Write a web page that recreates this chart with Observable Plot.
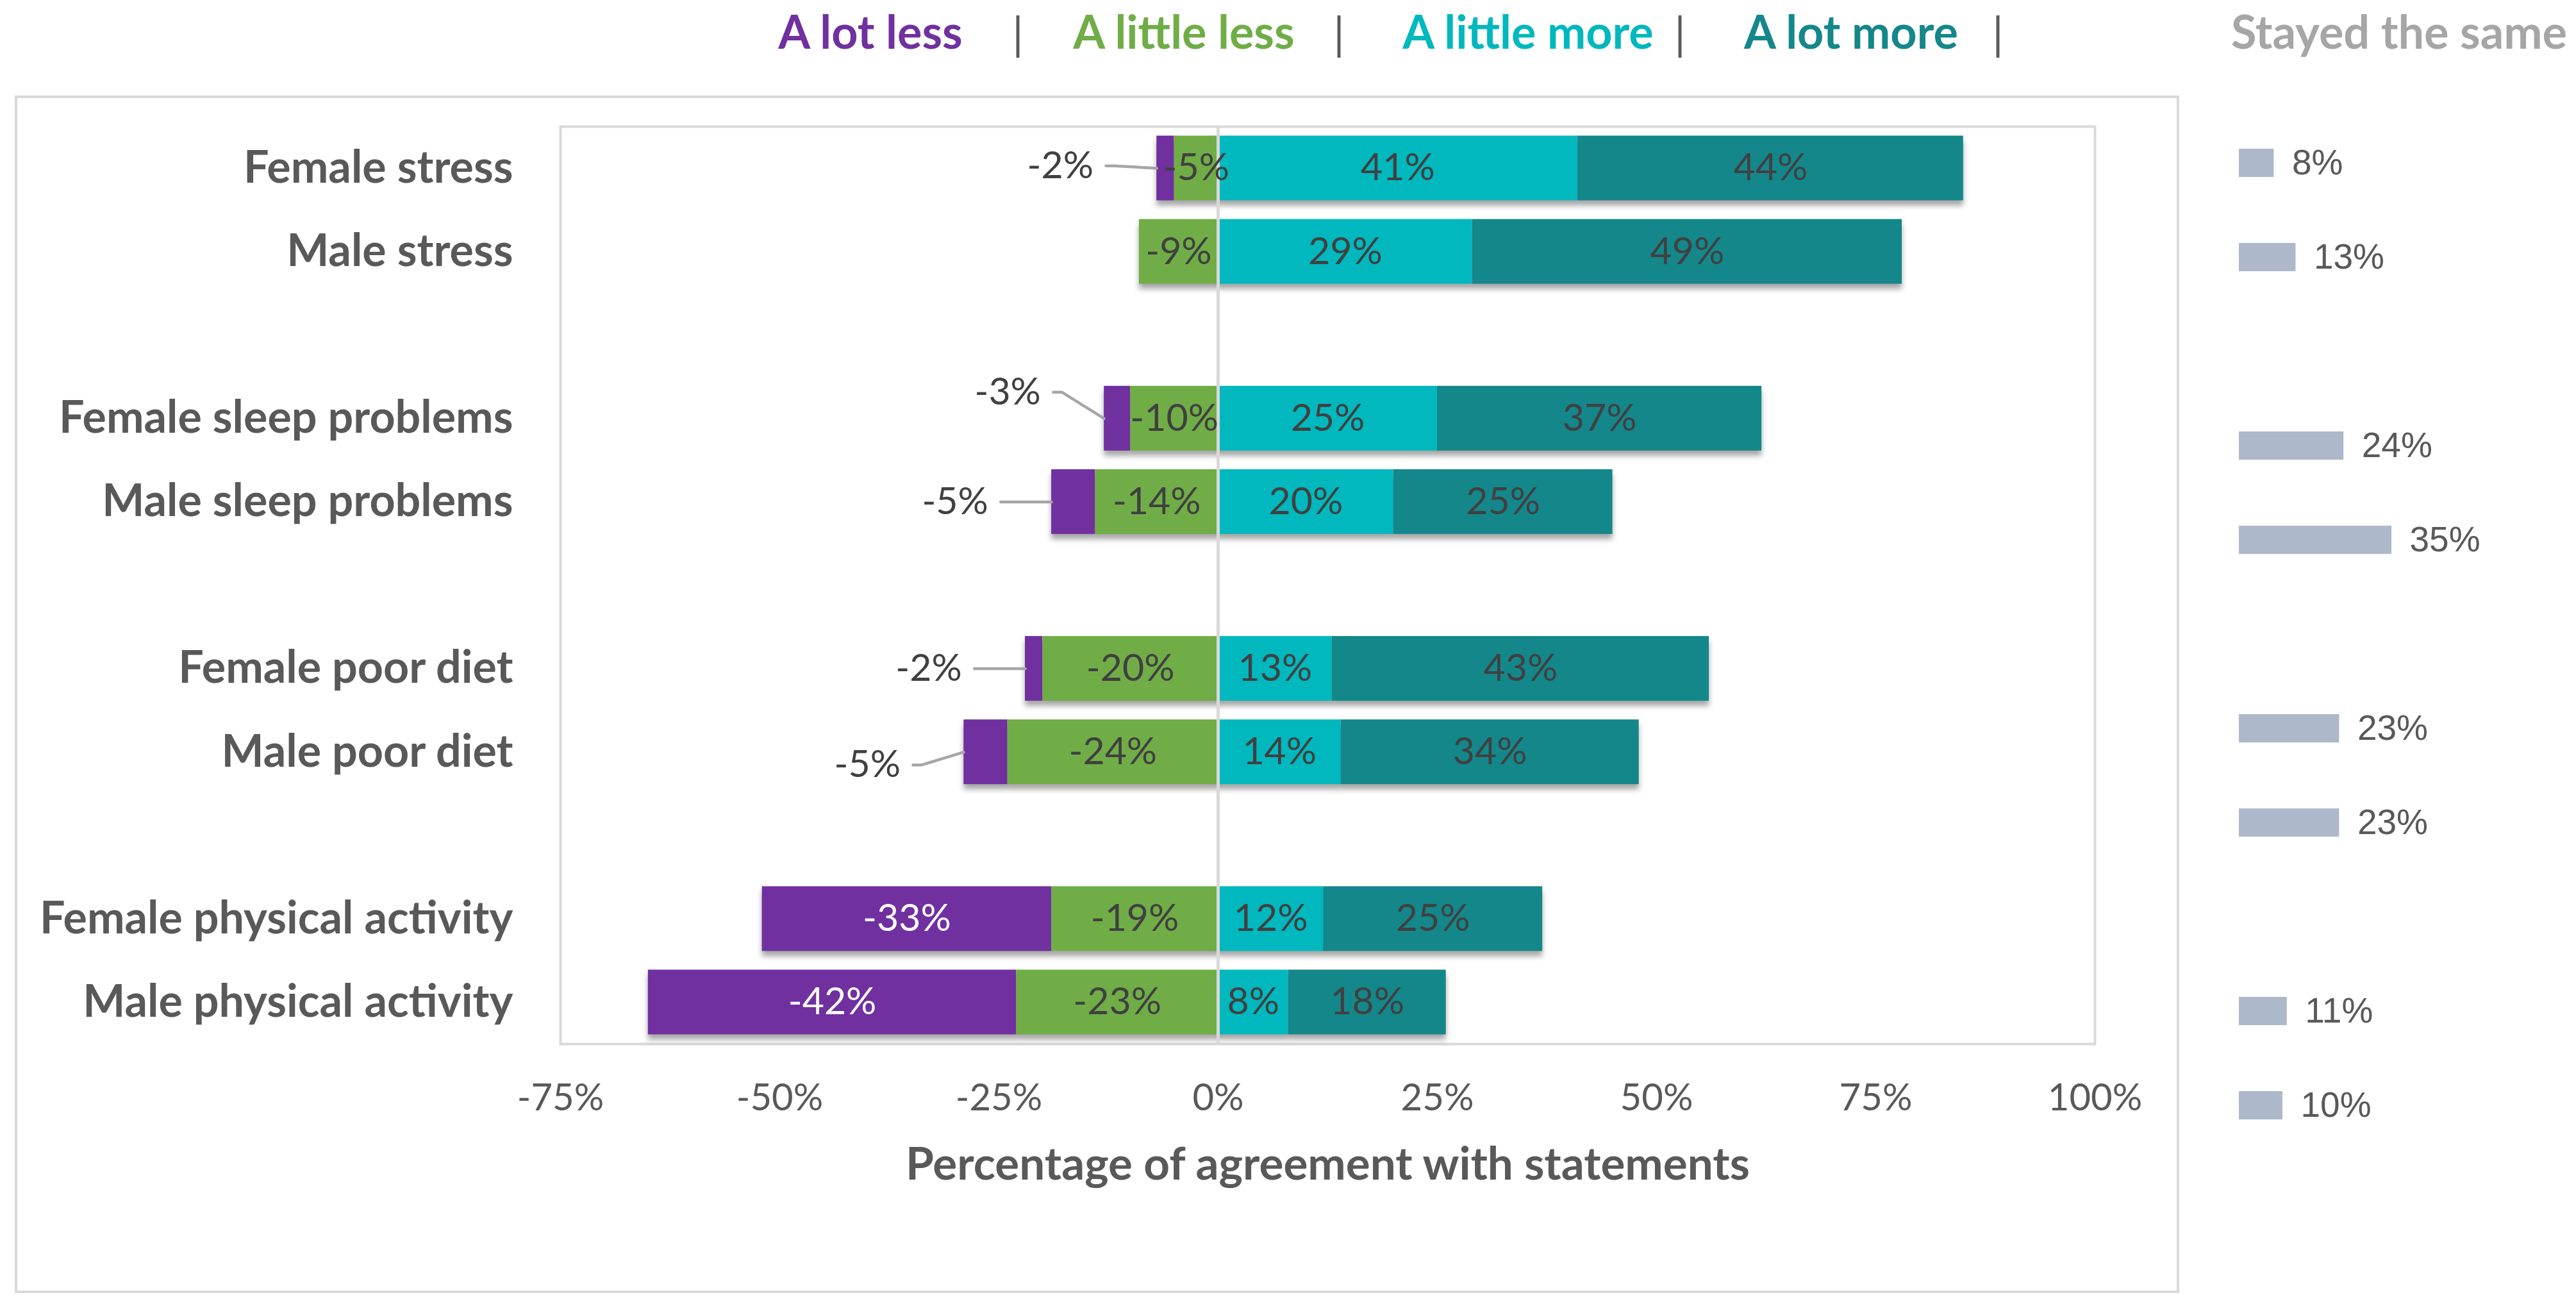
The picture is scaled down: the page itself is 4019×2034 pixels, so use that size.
<!DOCTYPE html>
<html><head><meta charset="utf-8">
<script src="https://cdn.jsdelivr.net/npm/d3@7"></script>
<script src="https://cdn.jsdelivr.net/npm/@observablehq/plot@0.6"></script>
<style>
html,body{margin:0;padding:0;background:#fff;}
#wrap{position:relative;width:4019px;height:2034px;overflow:hidden;}
#wrap > svg{position:absolute;left:0;top:0;}
#outer{position:absolute;left:23px;top:149px;width:3369px;height:1860px;border:4px solid #D9D9D9;}
</style></head><body><div id="wrap"><div id="outer"></div></div>
<script>
// ---- data ----
const categories = ["Female stress","Male stress","Female sleep problems","Male sleep problems","Female poor diet","Male poor diet","Female physical activity","Male physical activity"];
const slots = [0,1,3,4,6,7,9,10];
const aLotLess = [-2,0,-3,-5,-2,-5,-33,-42];
const aLittleLess = [-5,-9,-10,-14,-20,-24,-19,-23];
const aLittleMore = [41,29,25,20,13,14,12,8];
const aLotMore = [44,49,37,25,43,34,25,18];
const stayedSame = [8,13,24,35,23,23,11,10];
const xTicks = [-75,-50,-25,0,25,50,75,100];
const seriesNames = ["A lot less","A little less","A little more","A lot more"];
const seriesColors = ["#7030A0","#70AD47","#00B8BE","#14878B"];
const sameTitle = "Stayed the same";
const axisTitle = "Percentage of agreement with statements";
// vertical nudge of the outside (callout) labels, in row units
const calloutShift = [-0.03, 0, -0.315, 0, 0, 0.154, 0, 0];

const W = 4019, H = 2034;
const FONT = "Lato, 'Open Sans', sans-serif";

// ---- derived tables ----
const segs = [];
categories.forEach((c, i) => {
  const vals = [aLotLess[i], aLittleLess[i], aLittleMore[i], aLotMore[i]];
  const parts = [
    [aLittleLess[i] + aLotLess[i], aLittleLess[i]],
    [aLittleLess[i], 0],
    [0, aLittleMore[i]],
    [aLittleMore[i], aLittleMore[i] + aLotMore[i]]
  ];
  parts.forEach(([x1, x2], k) => {
    if (x1 !== x2) segs.push({cat: c, slot: slots[i], x1, x2, k, series: seriesNames[k], value: vals[k]});
  });
});
const insideDark = segs.filter(d => d.k > 0);
const insideWhite = segs.filter(d => d.k === 0 && Math.abs(d.value) >= 10);
const callouts = [];
const calloutLines = [];
categories.forEach((c, i) => {
  const v = aLotLess[i];
  if (v !== 0 && Math.abs(v) < 10) {
    const left = aLittleLess[i] + v;
    const ly = slots[i] + calloutShift[i];
    callouts.push({x: left - 11, y: ly, label: v + "%"});
    calloutLines.push({id: i, x: left - 5.8, y: ly});
    calloutLines.push({id: i, x: left - 4.8, y: ly});
    calloutLines.push({id: i, x: left, y: slots[i]});
  }
});

// ---- main chart ----
const main = Plot.plot({
  width: W, height: H,
  marginLeft: 874, marginRight: W - 3268, marginTop: 197, marginBottom: H - 1628,
  style: {fontFamily: FONT, fontSize: "58px", background: "transparent", overflow: "visible"},
  x: {domain: [xTicks[0], xTicks[xTicks.length - 1]], axis: null},
  y: {domain: [10.5, -0.5], axis: null},
  color: {domain: seriesNames, range: seriesColors},
  marks: [
    Plot.frame({stroke: "#D9D9D9", strokeWidth: 4}),
    Plot.rect(segs, {x1: "x1", x2: "x2", y1: d => d.slot - 0.388, y2: d => d.slot + 0.388, fill: "series"}),
    Plot.ruleX([0], {stroke: "#D9D9D9", strokeWidth: 5}),
    Plot.text(insideDark, {x: d => (d.x1 + d.x2) / 2, y: "slot", text: d => d.value + "%", fill: "#404040", fontSize: 59}),
    Plot.text(insideWhite, {x: d => (d.x1 + d.x2) / 2, y: "slot", text: d => d.value + "%", fill: "#ffffff", fontSize: 59}),
    Plot.line(calloutLines, {x: "x", y: "y", z: "id", stroke: "#A6A6A6", strokeWidth: 4.5}),
    Plot.text(callouts, {x: "x", y: "y", text: "label", fill: "#404040", fontSize: 59}),
    Plot.text(categories, {x: () => xTicks[0], y: (d, i) => slots[i], text: d => d, textAnchor: "end", dx: -74,
      fontSize: 70, fontWeight: "bold", fill: "#595959"}),
    Plot.axisX({ticks: xTicks, tickFormat: d => d + "%", tickSize: 0, tickPadding: 62, fontSize: 58, fill: "#595959", label: null}),
    Plot.text([axisTitle], {frameAnchor: "bottom", dy: 211, text: d => d, fontSize: 71, fontWeight: "bold", fill: "#595959"})
  ]
});
d3.select(main).selectAll('g[aria-label="rect"]').style("filter", "drop-shadow(0px 8px 4px rgba(0,0,0,0.35))");

// ---- side column: stayed the same ----
const side = Plot.plot({
  width: W, height: H,
  marginLeft: 3493, marginRight: W - 3833, marginTop: 180.5, marginBottom: H - 1797.5,
  style: {fontFamily: "'Liberation Sans', Arial, sans-serif", background: "transparent", overflow: "visible"},
  x: {domain: [0, 50], axis: null},
  y: {domain: [10.5, -0.5], axis: null},
  marks: [
    Plot.rect(stayedSame, {x1: () => 0, x2: d => d, y1: (d, i) => slots[i] - 0.15, y2: (d, i) => slots[i] + 0.15, fill: "#ADB9CA"}),
    Plot.text(stayedSame, {x: d => d, y: (d, i) => slots[i], text: d => d + "%", textAnchor: "start", dx: 28, fontSize: 55, fill: "#595959"})
  ]
});

const wrap = document.getElementById("wrap");
wrap.appendChild(main);
wrap.appendChild(side);

// ---- legend ----
const legendX = [1358, 1847, 2384, 2888];
const sepX = [1588, 2089, 2621, 3117];
const leg = d3.select(wrap).append("svg").attr("width", W).attr("height", 200)
  .style("font-family", FONT);
leg.selectAll("text.s").data(seriesNames).join("text").attr("class", "s")
  .attr("x", (d, i) => legendX[i]).attr("y", 76).attr("text-anchor", "middle")
  .attr("font-size", 72).attr("font-weight", "bold").attr("fill", (d, i) => seriesColors[i]).text(d => d);
leg.selectAll("text.p").data(sepX).join("text").attr("class", "p")
  .attr("x", d => d).attr("y", 78).attr("text-anchor", "middle")
  .attr("font-size", 70).attr("fill", "#595959").text("|");
leg.append("text").attr("x", 4005).attr("y", 76).attr("text-anchor", "end")
  .attr("font-size", 72).attr("font-weight", "bold").attr("fill", "#A6A6A6").text(sameTitle);
</script></body></html>
